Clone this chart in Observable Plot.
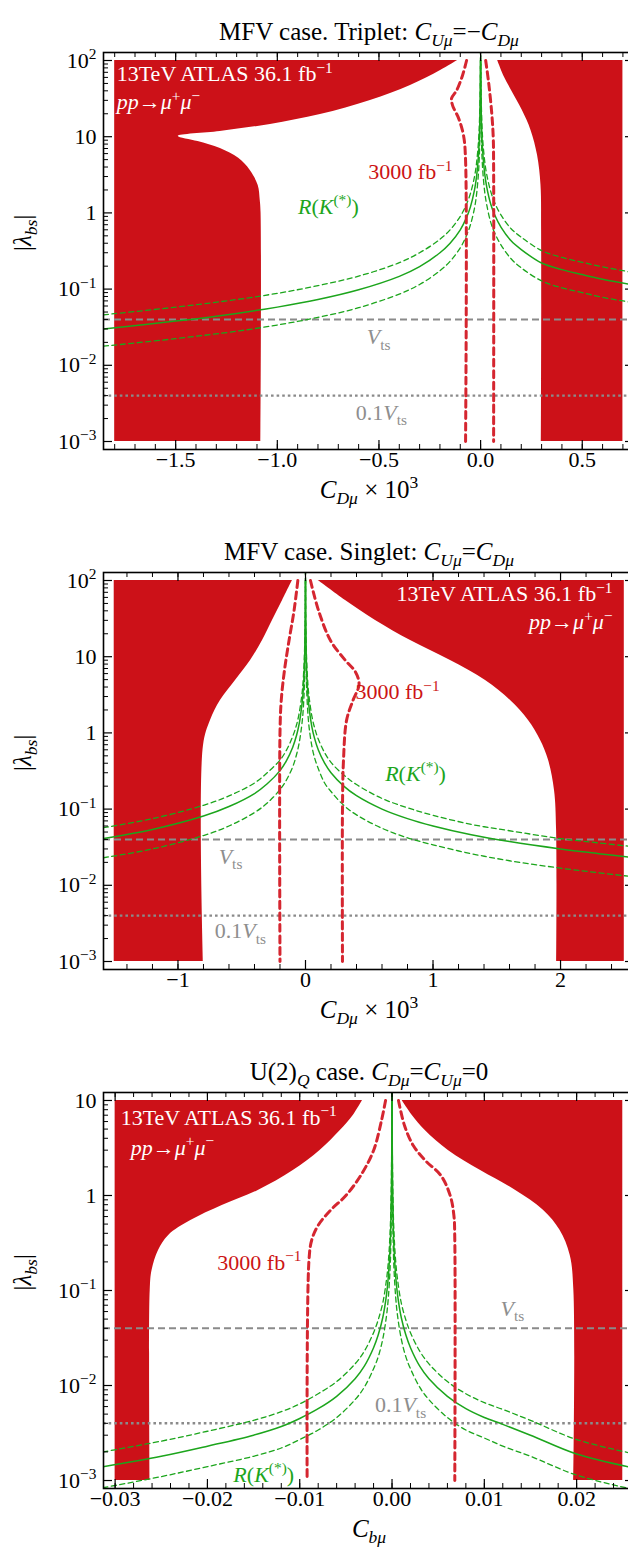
<!DOCTYPE html>
<html><head><meta charset="utf-8">
<script src="https://cdn.jsdelivr.net/npm/d3@7"></script>
<script src="https://cdn.jsdelivr.net/npm/@observablehq/plot@0.6"></script>
<style>
html,body{margin:0;padding:0;background:#fff;overflow:hidden}
.panel{width:628px;overflow:hidden;display:block}
.panel svg{display:block;max-width:none !important;width:640px !important}
</style></head><body><div id="wrap"></div>
<script>
// ---------- shared values ----------
const vtsValue = 0.04;
const vtsTenthValue = 0.004;
const atlasLabel = "13TeV ATLAS 36.1 fb^{−1}";
const procLabel = "/{pp}→/{μ}^{+}/{μ}^{−}";
const hlLabel = "3000 fb^{−1}";
const rkLabel = "/{R}(/{K}^{(*)})";
const vtsLabel = "/{V}_{ts}";
const vtsTenthLabel = "0.1/{V}_{ts}";
const yTitle = "|/{λ}_{/{bs}}|";

// ---------- Panel 1 : MFV triplet ----------
const p1Title = "MFV case. Triplet: /{C}_{/{Uμ}}=−/{C}_{/{Dμ}}";
const p1XTitle = "/{C}_{/{Dμ}} × 10^{3}";
const p1XTicks = [-1.5, -1.0, -0.5, 0, 0.5];
const p1XTickLabels = ["−1.5", "−1.0", "−0.5", "0.0", "0.5"];
const p1YTicks = [1e-3, 1e-2, 1e-1, 1, 10, 100];
const p1YTickLabels = ["10^{−3}", "10^{−2}", "10^{−1}", "1", "10", "10^{2}"];
const p1XMin = -1.8, p1XMax = 0.7;
const p1LeftRegionY = [0.001, 1.0, 1.46, 2.29, 3.6, 5.2, 7.0, 8.65, 10.1, 11.7, 14.5, 19.5, 29.8, 47, 74, 100];
const p1LeftRegionX = [-1.08, -1.08, -1.084, -1.094, -1.133, -1.19, -1.28, -1.39, -1.487, -1.281, -1.034, -0.788, -0.542, -0.345, -0.197, -0.113];
const p1RightRegionY = [0.001, 0.6, 2.3, 5.7, 12.1, 22.2, 40.5, 63.7, 100];
const p1RightRegionX = [0.30, 0.30, 0.297, 0.28, 0.248, 0.205, 0.152, 0.113, 0.084];
const p1HLLeftX = [-0.069, -0.089, -0.118, -0.143, -0.138, -0.108, -0.084, -0.074, -0.074];
const p1HLLeftY = [100, 63.7, 40.5, 31.8, 25.8, 17.4, 10.4, 4.9, 0.001];
const p1HLRightX = [0.025, 0.04, 0.055, 0.062, 0.064, 0.064];
const p1HLRightY = [100, 50, 20, 10, 4, 0.001];
const p1GreenLX = [-1.855, -1.5, -1.2, -1.0, -0.8, -0.6, -0.4, -0.3, -0.2, -0.15, -0.1, -0.07, -0.05, -0.03, -0.02, -0.01, -0.005, -0.002, -0.0006];
const p1GreenLSolid = [0.030, 0.038, 0.048, 0.058, 0.073, 0.098, 0.147, 0.197, 0.30, 0.40, 0.60, 0.86, 1.2, 2.0, 3.0, 6.0, 12, 30, 100];
const p1GreenLUpper = [0.046, 0.058, 0.073, 0.088, 0.111, 0.148, 0.222, 0.30, 0.45, 0.60, 0.90, 1.29, 1.8, 3.0, 4.5, 9.0, 18, 45, 150];
const p1GreenLLower = [0.0178, 0.0224, 0.028, 0.0338, 0.0425, 0.057, 0.086, 0.115, 0.174, 0.232, 0.348, 0.50, 0.70, 1.16, 1.74, 3.5, 7.0, 17.4, 100];
const p1GreenRX = [0.0006, 0.002, 0.005, 0.01, 0.02, 0.03, 0.05, 0.07, 0.1, 0.15, 0.2, 0.3, 0.4, 0.5, 0.6, 0.757];
const p1GreenRSolid = [100, 33, 13, 6.5, 3.3, 2.2, 1.3, 0.93, 0.65, 0.43, 0.33, 0.22, 0.18, 0.155, 0.135, 0.113];
const p1GreenRUpper = [150, 48, 19, 9.4, 4.8, 3.2, 1.9, 1.35, 0.94, 0.62, 0.48, 0.32, 0.26, 0.225, 0.196, 0.164];
const p1GreenRLower = [100, 19, 7.5, 3.8, 1.9, 1.28, 0.75, 0.54, 0.38, 0.25, 0.19, 0.128, 0.104, 0.09, 0.078, 0.066];

// ---------- Panel 2 : MFV singlet ----------
const p2Title = "MFV case. Singlet: /{C}_{/{Uμ}}=/{C}_{/{Dμ}}";
const p2XTitle = "/{C}_{/{Dμ}} × 10^{3}";
const p2XTicks = [-1, 0, 1, 2];
const p2XTickLabels = ["−1", "0", "1", "2"];
const p2YTicks = [1e-3, 1e-2, 1e-1, 1, 10, 100];
const p2YTickLabels = ["10^{−3}", "10^{−2}", "10^{−1}", "1", "10", "10^{2}"];
const p2XMin = -1.5, p2XMax = 2.5;
const p2LeftRegionY = [0.001, 0.68, 1.46, 2.66, 4.87, 8.9, 16.3, 29.9, 54.7, 100];
const p2LeftRegionX = [-0.80, -0.80, -0.745, -0.667, -0.549, -0.431, -0.337, -0.259, -0.18, -0.102];
const p2RightRegionY = [0.001, 0.053, 0.174, 0.436, 0.80, 1.46, 2.66, 4.87, 8.9, 16.3, 29.9, 54.7, 100];
const p2RightRegionX = [1.97, 1.969, 1.953, 1.906, 1.843, 1.749, 1.608, 1.412, 1.137, 0.824, 0.549, 0.314, 0.10];
const p2HLLeftX = [-0.06, -0.09, -0.13, -0.165, -0.19, -0.2, -0.2];
const p2HLLeftY = [100, 40, 16, 6.6, 2.7, 1, 0.001];
const p2HLRightX = [0.039, 0.102, 0.196, 0.314, 0.392, 0.42, 0.372, 0.322, 0.298, 0.29, 0.29];
const p2HLRightY = [100, 40.5, 16.3, 8.9, 6.3, 4.3, 2.66, 1.46, 0.44, 0.1, 0.001];
const p2GreenLX = [-1.584, -1.2, -0.8, -0.6, -0.4, -0.3, -0.2, -0.15, -0.1, -0.07, -0.05, -0.03, -0.02, -0.01, -0.005, -0.002, -0.0006];
const p2GreenLSolid = [0.041, 0.054, 0.081, 0.108, 0.16, 0.215, 0.32, 0.43, 0.65, 0.93, 1.3, 2.2, 3.2, 6.5, 13, 32, 100];
const p2GreenLUpper = [0.057, 0.075, 0.112, 0.149, 0.22, 0.30, 0.44, 0.59, 0.9, 1.28, 1.8, 3.0, 4.4, 9.0, 18, 44, 140];
const p2GreenLLower = [0.023, 0.030, 0.045, 0.060, 0.09, 0.12, 0.18, 0.24, 0.36, 0.52, 0.73, 1.23, 1.8, 3.6, 7.3, 18, 100];
const p2GreenRX = [0.0006, 0.002, 0.005, 0.01, 0.02, 0.03, 0.05, 0.07, 0.1, 0.15, 0.2, 0.3, 0.4, 0.6, 0.8, 1.0, 1.3, 1.6, 2.0, 2.3, 2.58];
const p2GreenRSolid = [100, 30, 12, 6, 3, 2, 1.2, 0.86, 0.6, 0.4, 0.3, 0.2, 0.15, 0.1, 0.075, 0.06, 0.046, 0.0375, 0.030, 0.026, 0.023];
const p2GreenRUpper = [140, 41, 16.5, 8.3, 4.1, 2.8, 1.66, 1.19, 0.83, 0.55, 0.41, 0.28, 0.21, 0.138, 0.104, 0.083, 0.063, 0.052, 0.041, 0.036, 0.032];
const p2GreenRLower = [100, 16.8, 6.7, 3.4, 1.68, 1.12, 0.67, 0.48, 0.34, 0.22, 0.17, 0.112, 0.084, 0.056, 0.042, 0.034, 0.026, 0.021, 0.0168, 0.0146, 0.0129];

// ---------- Panel 3 : U(2)_Q ----------
const p3Title = "U(2)_{/{Q}} case. /{C}_{/{Dμ}}=/{C}_{/{Uμ}}=0";
const p3XTitle = "/{C}_{/{bμ}}";
const p3XTicks = [-0.03, -0.02, -0.01, 0, 0.01, 0.02];
const p3XTickLabels = ["−0.03", "−0.02", "−0.01", "0.00", "0.01", "0.02"];
const p3YTicks = [1e-3, 1e-2, 1e-1, 1, 10];
const p3YTickLabels = ["10^{−3}", "10^{−2}", "10^{−1}", "1", "10"];
const p3XMin = -0.03, p3XMax = 0.025;
const p3LeftRegionY = [0.001, 0.1, 0.162, 0.264, 0.38, 0.545, 0.785, 1.13, 1.83, 2.98, 4.83, 6.95, 10];
const p3LeftRegionX = [-0.0262, -0.0262, -0.026, -0.0253, -0.0242, -0.0218, -0.0184, -0.0145, -0.0107, -0.0078, -0.0056, -0.0042, -0.0032];
const p3RightRegionY = [0.001, 0.1, 0.235, 0.43, 0.70, 1.13, 1.83, 2.98, 4.83, 6.95, 10];
const p3RightRegionX = [0.0197, 0.0197, 0.0193, 0.0182, 0.0164, 0.0134, 0.0096, 0.0061, 0.0036, 0.0022, 0.0011];
const p3HLLeftX = [-0.0007, -0.00114, -0.002, -0.0034, -0.005, -0.00666, -0.008, -0.0087, -0.009, -0.0092];
const p3HLLeftY = [10, 6.16, 2.98, 1.62, 1.0, 0.70, 0.485, 0.34, 0.207, 0.001];
const p3HLRightX = [0.0007, 0.00135, 0.0023, 0.0036, 0.0053, 0.0063, 0.0067, 0.0068, 0.0068];
const p3HLRightY = [10, 5.45, 3.36, 2.34, 1.62, 1.0, 0.62, 0.34, 0.001];
const p3GreenLX = [-0.0313, -0.025, -0.02, -0.015, -0.012, -0.01, -0.008, -0.006, -0.004, -0.003, -0.002, -0.0015, -0.001, -0.0006, -0.0004, -0.0002, -0.0001, -0.00005, -0.00002, 0];
const p3GreenLSolid = [0.0014, 0.0018, 0.0023, 0.0030, 0.0037, 0.0045, 0.0057, 0.0077, 0.0118, 0.016, 0.025, 0.034, 0.052, 0.09, 0.14, 0.3, 0.7, 1.5, 4, 12];
const p3GreenLUpper = [0.0020, 0.0026, 0.0033, 0.0043, 0.0053, 0.0064, 0.0082, 0.011, 0.0169, 0.023, 0.036, 0.049, 0.074, 0.13, 0.2, 0.43, 1.0, 2.1, 5.7, 17];
const p3GreenLLower = [0.00084, 0.0011, 0.0014, 0.0018, 0.0022, 0.0027, 0.0034, 0.0046, 0.0071, 0.0096, 0.015, 0.020, 0.031, 0.054, 0.084, 0.18, 0.42, 0.9, 2.4, 12];
const p3GreenRX = [0, 0.00002, 0.00005, 0.0001, 0.0002, 0.0004, 0.0006, 0.001, 0.0015, 0.002, 0.003, 0.004, 0.006, 0.008, 0.01, 0.012, 0.015, 0.02, 0.0263];
const p3GreenRSolid = [12, 4, 1.5, 0.7, 0.3, 0.14, 0.09, 0.052, 0.034, 0.025, 0.016, 0.0118, 0.0077, 0.0057, 0.0046, 0.0039, 0.0030, 0.0019, 0.00135];
const p3GreenRUpper = [17, 5.7, 2.1, 1.0, 0.43, 0.2, 0.13, 0.074, 0.049, 0.036, 0.023, 0.0169, 0.011, 0.0082, 0.0066, 0.0056, 0.0043, 0.0027, 0.0019];
const p3GreenRLower = [12, 2.4, 0.9, 0.42, 0.18, 0.084, 0.054, 0.031, 0.020, 0.015, 0.0096, 0.0071, 0.0046, 0.0034, 0.0028, 0.0023, 0.0018, 0.00114, 0.0008];

// ---------- styling ----------
const W = 640, ML = 103, MR = 6, MT = 52;
const RED = "#cc1118", DASHRED = "#d52630", GREEN = "#1ca51c", GRAY = "#8a8a8a", GRAYTXT = "#8e8e8e", TXTRED = "#cc1414";
const FONT = "'Liberation Serif', 'Times New Roman', serif";
const FS_TICK = 22, FS_NOTE = 22, FS_ATLAS = 22, FS_AXIS = 25, FS_TITLE = 25;

const zip = (X, Y) => X.map((x, i) => ({x, y: Y[i]}));
const region = (Y, X, key, val) => Y.map((y, i) => ({y, x: X[i], [key]: val}));

function parseRich(s) {
  const out = [];
  (function walk(str, st) {
    let buf = "";
    for (let i = 0; i < str.length; i++) {
      const c = str[i];
      if ((c === "^" || c === "_" || c === "/") && str[i + 1] === "{") {
        if (buf) { out.push(Object.assign({t: buf}, st)); buf = ""; }
        let depth = 0, j = i + 1;
        for (; j < str.length; j++) {
          if (str[j] === "{") depth++;
          else if (str[j] === "}") { depth--; if (depth === 0) break; }
        }
        const ns = Object.assign({}, st);
        if (c === "^") ns.lvl = 1; else if (c === "_") ns.lvl = -1; else ns.it = true;
        walk(str.slice(i + 2, j), ns);
        i = j;
      } else buf += c;
    }
    if (buf) out.push(Object.assign({t: buf}, st));
  })(s, {lvl: 0, it: false});
  return out;
}
function applyRich(el) {
  const s = el.textContent;
  if (!/[\^_\/]\{/.test(s)) return;
  const fs = parseFloat(getComputedStyle(el).fontSize) || 20;
  const segs = parseRich(s);
  el.textContent = "";
  let cur = 0;
  for (const g of segs) {
    const ts = document.createElementNS("http://www.w3.org/2000/svg", "tspan");
    const target = g.lvl === 1 ? -0.38 * fs : g.lvl === -1 ? 0.24 * fs : 0;
    const d = target - cur;
    if (d) ts.setAttribute("dy", d.toFixed(2));
    cur = target;
    if (g.lvl) ts.setAttribute("font-size", (0.7 * fs).toFixed(2));
    if (g.it) ts.setAttribute("font-style", "italic");
    ts.textContent = g.t;
    el.appendChild(ts);
  }
}

function panel(o) {
  const ph = o.height - MT - o.mb, pw = W - ML - MR;
  const yMinor = [];
  for (let k = o.decLo; k < o.decHi; k++) for (let m = 2; m <= 9; m++) yMinor.push(m * Math.pow(10, k));
  const marks = [
    Plot.areaX(o.leftRegion, {y: "y", x1: "x1", x2: "x", fill: RED, curve: "catmull-rom", clip: true}),
    Plot.areaX(o.rightRegion, {y: "y", x1: "x", x2: "x2", fill: RED, curve: "catmull-rom", clip: true}),
    Plot.ruleY([vtsValue], {y: d => d, stroke: GRAY, strokeWidth: 2, strokeDasharray: "7,4"}),
    Plot.ruleY([vtsTenthValue], {y: d => d, stroke: GRAY, strokeWidth: 2.4, strokeDasharray: "2.6,3"})
  ];
  for (const g of o.greenSolid) marks.push(Plot.line(g, {x: "x", y: "y", stroke: GREEN, strokeWidth: 1.5, curve: "catmull-rom", clip: true}));
  for (const g of o.greenDashed) marks.push(Plot.line(g, {x: "x", y: "y", stroke: GREEN, strokeWidth: 1.3, strokeDasharray: "5,3.5", curve: "catmull-rom", clip: true}));
  for (const d of o.hl) marks.push(Plot.line(d, {x: "x", y: "y", stroke: DASHRED, strokeWidth: 3, strokeDasharray: "7,4.5", curve: "catmull-rom", clip: true}));
  for (const l of o.labels) marks.push(Plot.text([l.t], {x: () => l.x, y: () => l.y, text: d => d, fill: l.fill, textAnchor: l.anchor, fontSize: l.fs || FS_NOTE}));
  marks.push(
    Plot.frame({stroke: "black", strokeWidth: 1.6}),
    Plot.ruleX(o.xMinor, {x: d => d, insetTop: ph - 5, stroke: "black", strokeWidth: 1}),
    Plot.ruleX(o.xMinor, {x: d => d, insetBottom: ph - 5, stroke: "black", strokeWidth: 1}),
    Plot.ruleX(o.xTicks, {x: d => d, insetTop: ph - 9, stroke: "black", strokeWidth: 1.2}),
    Plot.ruleX(o.xTicks, {x: d => d, insetBottom: ph - 9, stroke: "black", strokeWidth: 1.2}),
    Plot.ruleY(yMinor, {y: d => d, insetRight: pw - 5, stroke: "black", strokeWidth: 1}),
    Plot.ruleY(yMinor, {y: d => d, insetLeft: pw - 5, stroke: "black", strokeWidth: 1}),
    Plot.ruleY(o.yTicks, {y: d => d, insetRight: pw - 9, stroke: "black", strokeWidth: 1.2}),
    Plot.ruleY(o.yTicks, {y: d => d, insetLeft: pw - 9, stroke: "black", strokeWidth: 1.2}),
    Plot.text(o.xTicks, {x: d => d, text: (d, i) => o.xTickLabels[i], frameAnchor: "bottom", dy: 17, fontSize: FS_TICK}),
    Plot.text(o.yTicks, {y: d => d, text: (d, i) => o.yTickLabels[i], frameAnchor: "left", dx: -7, textAnchor: "end", fontSize: FS_TICK}),
    Plot.text([o.title], {frameAnchor: "top", dy: -30, fontSize: FS_TITLE}),
    Plot.text([o.xTitle], {frameAnchor: "bottom", dy: 48, fontSize: FS_AXIS}),
    Plot.text([yTitle], {frameAnchor: "left", dx: -81, rotate: -90, fontSize: FS_AXIS})
  );
  const svg = Plot.plot({
    width: W, height: o.height,
    marginLeft: ML, marginRight: MR, marginTop: MT, marginBottom: o.mb,
    x: {domain: o.xDomain, axis: null},
    y: {type: "log", domain: o.yDomain, axis: null},
    style: {fontFamily: FONT, fontSize: "20px", color: "black", background: "white", overflow: "visible", maxWidth: "none"},
    marks
  });
  const div = document.createElement("div");
  div.className = "panel";
  div.style.height = o.height + "px";
  div.appendChild(svg);
  document.getElementById("wrap").appendChild(div);
  svg.querySelectorAll("text").forEach(applyRich);
}

panel({
  height: 520, mb: 71,
  xDomain: [-1.855, 0.757], yDomain: [Math.pow(10, -3.105), Math.pow(10, 2.105)],
  decLo: -3, decHi: 2,
  title: p1Title, xTitle: p1XTitle,
  xTicks: p1XTicks, xTickLabels: p1XTickLabels, yTicks: p1YTicks, yTickLabels: p1YTickLabels,
  xMinor: d3.range(-18, 8).map(i => i / 10),
  leftRegion: region(p1LeftRegionY, p1LeftRegionX, "x1", p1XMin),
  rightRegion: region(p1RightRegionY, p1RightRegionX, "x2", p1XMax),
  hl: [zip(p1HLLeftX, p1HLLeftY), zip(p1HLRightX, p1HLRightY)],
  greenSolid: [zip(p1GreenLX, p1GreenLSolid), zip(p1GreenRX, p1GreenRSolid)],
  greenDashed: [zip(p1GreenLX, p1GreenLUpper), zip(p1GreenLX, p1GreenLLower), zip(p1GreenRX, p1GreenRUpper), zip(p1GreenRX, p1GreenRLower)],
  labels: [
    {t: atlasLabel, x: -1.79, y: 66, fill: "white", anchor: "start", fs: FS_ATLAS},
    {t: procLabel, x: -1.79, y: 28.5, fill: "white", anchor: "start", fs: FS_ATLAS},
    {t: hlLabel, x: -0.138, y: 3.4, fill: TXTRED, anchor: "end"},
    {t: rkLabel, x: -0.749, y: 1.21, fill: GREEN, anchor: "middle"},
    {t: vtsLabel, x: -0.502, y: 0.0232, fill: GRAYTXT, anchor: "middle"},
    {t: vtsTenthLabel, x: -0.488, y: 0.0024, fill: GRAYTXT, anchor: "middle"}
  ]
});

panel({
  height: 520, mb: 71,
  xDomain: [-1.584, 2.58], yDomain: [Math.pow(10, -3.105), Math.pow(10, 2.105)],
  decLo: -3, decHi: 2,
  title: p2Title, xTitle: p2XTitle,
  xTicks: p2XTicks, xTickLabels: p2XTickLabels, yTicks: p2YTicks, yTickLabels: p2YTickLabels,
  xMinor: d3.range(-7, 13).map(i => i * 0.2),
  leftRegion: region(p2LeftRegionY, p2LeftRegionX, "x1", p2XMin),
  rightRegion: region(p2RightRegionY, p2RightRegionX, "x2", p2XMax),
  hl: [zip(p2HLLeftX, p2HLLeftY), zip(p2HLRightX, p2HLRightY)],
  greenSolid: [zip(p2GreenLX, p2GreenLSolid), zip(p2GreenRX, p2GreenRSolid)],
  greenDashed: [zip(p2GreenLX, p2GreenLUpper), zip(p2GreenLX, p2GreenLLower), zip(p2GreenRX, p2GreenRUpper), zip(p2GreenRX, p2GreenRLower)],
  labels: [
    {t: atlasLabel, x: 2.408, y: 66, fill: "white", anchor: "end", fs: FS_ATLAS},
    {t: procLabel, x: 2.408, y: 28.5, fill: "white", anchor: "end", fs: FS_ATLAS},
    {t: hlLabel, x: 0.392, y: 3.4, fill: TXTRED, anchor: "start"},
    {t: rkLabel, x: 0.863, y: 0.293, fill: GREEN, anchor: "middle"},
    {t: vtsLabel, x: -0.588, y: 0.0239, fill: GRAYTXT, anchor: "middle"},
    {t: vtsTenthLabel, x: -0.51, y: 0.00248, fill: GRAYTXT, anchor: "middle"}
  ]
});

panel({
  height: 510, mb: 62,
  xDomain: [-0.03126, 0.02627], yDomain: [Math.pow(10, -3.084), Math.pow(10, 1.084)],
  decLo: -3, decHi: 1,
  title: p3Title, xTitle: p3XTitle,
  xTicks: p3XTicks, xTickLabels: p3XTickLabels, yTicks: p3YTicks, yTickLabels: p3YTickLabels,
  xMinor: d3.range(-15, 14).map(i => i * 0.002),
  leftRegion: region(p3LeftRegionY, p3LeftRegionX, "x1", p3XMin),
  rightRegion: region(p3RightRegionY, p3RightRegionX, "x2", p3XMax),
  hl: [zip(p3HLLeftX, p3HLLeftY), zip(p3HLRightX, p3HLRightY)],
  greenSolid: [zip(p3GreenLX, p3GreenLSolid), zip(p3GreenRX, p3GreenRSolid)],
  greenDashed: [zip(p3GreenLX, p3GreenLUpper), zip(p3GreenLX, p3GreenLLower), zip(p3GreenRX, p3GreenRUpper), zip(p3GreenRX, p3GreenRLower)],
  labels: [
    {t: atlasLabel, x: -0.0294, y: 6.6, fill: "white", anchor: "start", fs: FS_ATLAS},
    {t: procLabel, x: -0.0283, y: 3.2, fill: "white", anchor: "start", fs: FS_ATLAS},
    {t: hlLabel, x: -0.0098, y: 0.197, fill: TXTRED, anchor: "end"},
    {t: vtsLabel, x: 0.01305, y: 0.0646, fill: GRAYTXT, anchor: "middle"},
    {t: vtsTenthLabel, x: 0.00092, y: 0.0062, fill: GRAYTXT, anchor: "middle"},
    {t: rkLabel, x: -0.0139, y: 0.00115, fill: GREEN, anchor: "middle"}
  ]
});
</script></body></html>
